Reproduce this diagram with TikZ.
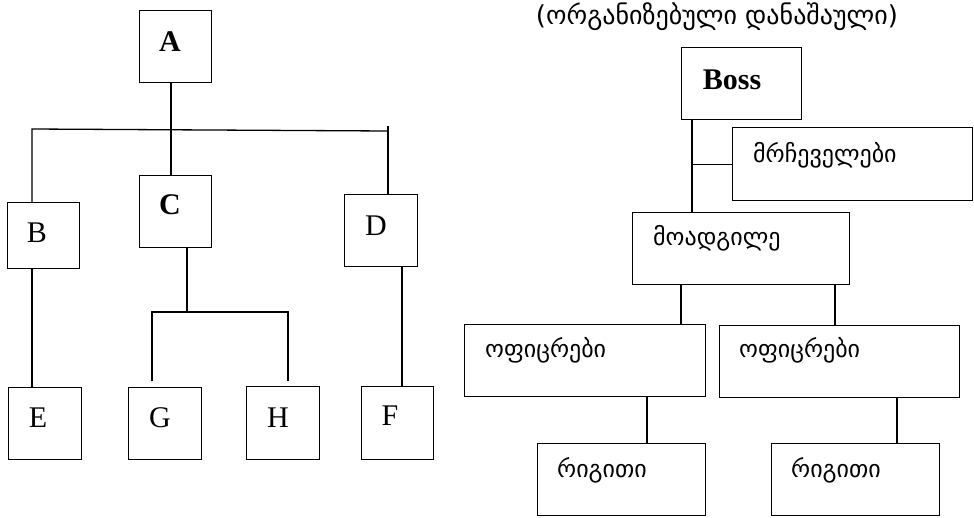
\documentclass[tikz,border=0pt]{standalone}
\usepackage{fontspec}
\setmainfont{Liberation Serif}
\newfontfamily\geo{DejaVu Sans}
\begin{document}
\begin{tikzpicture}[x=1pt,y=-1pt,
  box/.style={draw,line width=1.3pt,anchor=north west,inner sep=0pt,minimum width=#1},
  box/.default=72pt,
  lat/.style={font=\fontsize{30}{32}\selectfont,inner sep=0pt},
  latb/.style={font=\fontsize{30}{32}\selectfont\bfseries,inner sep=0pt},
  geot/.style={font=\fontsize{24}{28}\selectfont\geo,inner sep=0pt,anchor=west},
  conn/.style={line width=1.3pt}]
\useasboundingbox (0,0) rectangle (974,517);
% left tree boxes
\node[box,minimum height=72pt] (A) at (139,10) {};
\node[box,minimum height=66pt] (B) at (7,202) {};
\node[box,minimum height=72pt] (C) at (139,175) {};
\node[box=73pt,minimum height=72pt] (D) at (344,194) {};
\node[box=73pt,minimum height=72pt] (E) at (8,387) {};
\node[box=73pt,minimum height=72pt] (G) at (128,387) {};
\node[box=73pt,minimum height=73pt] (H) at (246,386) {};
\node[box,minimum height=73pt] (F) at (361,386) {};
% left labels
\node[latb] (tA) at (170,42) {A};
\node[latb] (tC) at (170,205) {C};
\node[lat] (tB) at (37,233) {B};
\node[lat] (tD) at (376,226) {D};
\node[lat] (tE) at (38,418) {E};
\node[lat] (tG) at (160,418) {G};
\node[lat] (tH) at (278,418) {H};
\node[lat] (tF) at (390,416) {F};
% left connectors
\coordinate (ax) at (171,0);
\coordinate (bus1) at (32,129);
\coordinate (bus2) at (388,131);
\coordinate (bus2t) at (388,126);
\coordinate (cgh) at (187,312);
\coordinate (gL) at (152,381);
\coordinate (gR) at (288,381);
\coordinate (df) at (402,0);
\draw[conn] (A.south -| ax) -- (C.north -| ax);
\draw[conn] (B.north -| bus1) -- (bus1) -- (bus2);
\draw[conn] (bus2t) -- (D.north -| bus2t);
\draw[conn] (C.south -| cgh) -- (cgh);
\draw[conn] (gL) -- (gL |- cgh) -- (gR |- cgh) -- (gR);
\draw[conn] (B.south -| bus1) -- (E.north -| bus1);
\draw[conn] (D.south -| df) -- (F.north -| df);
% right tree
\node[font=\fontsize{26}{30}\selectfont\geo,inner sep=0pt] (title) at (717,17) {(ორგანიზებული დანაშაული)};
\node[box=120pt,minimum height=72pt] (boss) at (681,47) {};
\node[latb] (tboss) at (732,80) {Boss};
\node[box=240pt,minimum height=73pt] (mrch) at (732,127) {};
\node[box=217pt,minimum height=72pt] (moadg) at (632,212) {};
\node[box=241pt,minimum height=72pt] (off1) at (464,324) {};
\node[box=240pt,minimum height=72pt] (off2) at (719,325) {};
\node[box=168pt,minimum height=72pt] (rig1) at (537,443) {};
\node[box=168pt,minimum height=72pt] (rig2) at (771,443) {};
\node[geot] (tmrch) at (753,155) {მრჩეველები};
\node[geot] (tmoadg) at (653,238) {მოადგილე};
\node[geot] (toff1) at (485,350) {ოფიცრები};
\node[geot] (toff2) at (739,350) {ოფიცრები};
\node[geot] (trig1) at (557,470) {რიგითი};
\node[geot] (trig2) at (791,470) {რიგითი};
\coordinate (bx) at (692,0);
\coordinate (m1) at (681,0);
\coordinate (m2) at (835,0);
\coordinate (o1) at (647,0);
\coordinate (o2) at (897,0);
\draw[conn] (boss.south -| bx) -- (moadg.north -| bx);
\draw[conn] (mrch.west -| bx) -- (mrch.west);
\draw[conn] (moadg.south -| m1) -- (off1.north -| m1);
\draw[conn] (moadg.south -| m2) -- (off2.north -| m2);
\draw[conn] (off1.south -| o1) -- (rig1.north -| o1);
\draw[conn] (off2.south -| o2) -- (rig2.north -| o2);
\end{tikzpicture}
\end{document}
